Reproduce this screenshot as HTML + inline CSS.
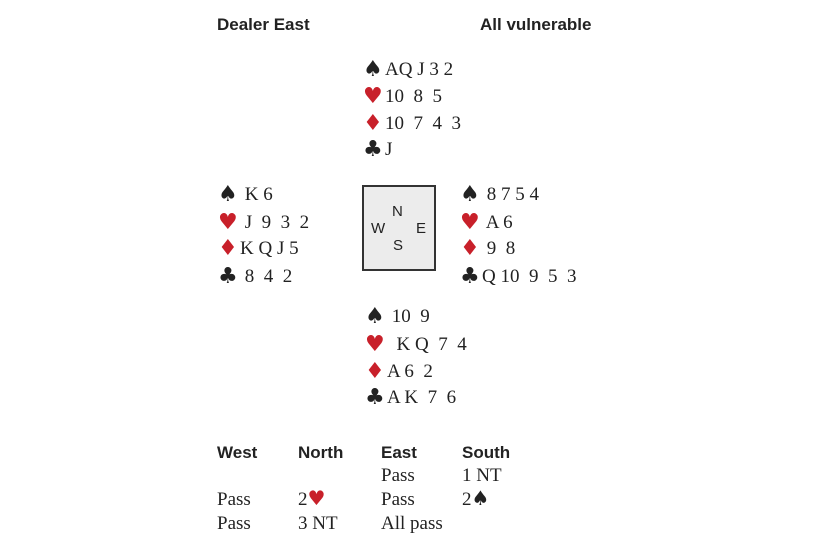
<!DOCTYPE html>
<html><head><style>
body{margin:0;width:820px;height:550px;background:#fff;position:relative;overflow:hidden;font-family:"Liberation Serif",serif;font-size:19px;color:#222}
div{position:absolute;line-height:22px;white-space:pre}
.h{font-family:"Liberation Sans",sans-serif;font-weight:bold;font-size:17px}
.r{color:#c8202a}
.s{display:inline-block;width:22px;font-family:"DejaVu Sans",sans-serif;font-size:22px;line-height:22px;vertical-align:top}
.s2{font-family:"DejaVu Sans",sans-serif;font-size:20px;line-height:0}
.box{border:2px solid #333;background:#ececec;left:362px;top:185px;width:70px;height:82px}
.c{font-family:"Liberation Sans",sans-serif;font-size:15px}
</style></head><body>
<div class="h" style="left:217px;top:14px">Dealer East</div>
<div class="h" style="left:480px;top:14px">All vulnerable</div>

<div style="left:363px;top:59px"><span class="s">♠</span>AQ J 3 2</div>
<div style="left:363px;top:86px"><span class="s r">♥</span>10  8  5</div>
<div style="left:363px;top:113px"><span class="s r">♦</span>10  7  4  3</div>
<div style="left:363px;top:139px"><span class="s">♣</span>J</div>

<div style="left:218px;top:184px"><span class="s">♠</span> K 6</div>
<div style="left:218px;top:212px"><span class="s r">♥</span> J  9  3  2</div>
<div style="left:218px;top:238px"><span class="s r">♦</span>K Q J 5</div>
<div style="left:218px;top:266px"><span class="s">♣</span> 8  4  2</div>

<div class="box"></div>
<div class="c" style="left:392px;top:201px">N</div>
<div class="c" style="left:371px;top:218px">W</div>
<div class="c" style="left:416px;top:218px">E</div>
<div class="c" style="left:393px;top:235px">S</div>

<div style="left:460px;top:184px"><span class="s">♠</span> 8 7 5 4</div>
<div style="left:460px;top:212px"><span class="s r">♥</span> A 6</div>
<div style="left:460px;top:238px"><span class="s r">♦</span> 9  8</div>
<div style="left:460px;top:266px"><span class="s">♣</span>Q 10  9  5  3</div>

<div style="left:365px;top:306px"><span class="s">♠</span> 10  9</div>
<div style="left:365px;top:334px"><span class="s r">♥</span>  K Q  7  4</div>
<div style="left:365px;top:361px"><span class="s r">♦</span>A 6  2</div>
<div style="left:365px;top:387px"><span class="s">♣</span>A K  7  6</div>

<div class="h" style="left:217px;top:442px">West</div>
<div class="h" style="left:298px;top:442px">North</div>
<div class="h" style="left:381px;top:442px">East</div>
<div class="h" style="left:462px;top:442px">South</div>
<div style="left:381px;top:465px">Pass</div>
<div style="left:462px;top:465px">1 NT</div>
<div style="left:217px;top:489px">Pass</div>
<div style="left:298px;top:489px">2<span class="s2 r">♥</span></div>
<div style="left:381px;top:489px">Pass</div>
<div style="left:462px;top:489px">2<span class="s2">♠</span></div>
<div style="left:217px;top:513px">Pass</div>
<div style="left:298px;top:513px">3 NT</div>
<div style="left:381px;top:513px">All pass</div>
</body></html>
